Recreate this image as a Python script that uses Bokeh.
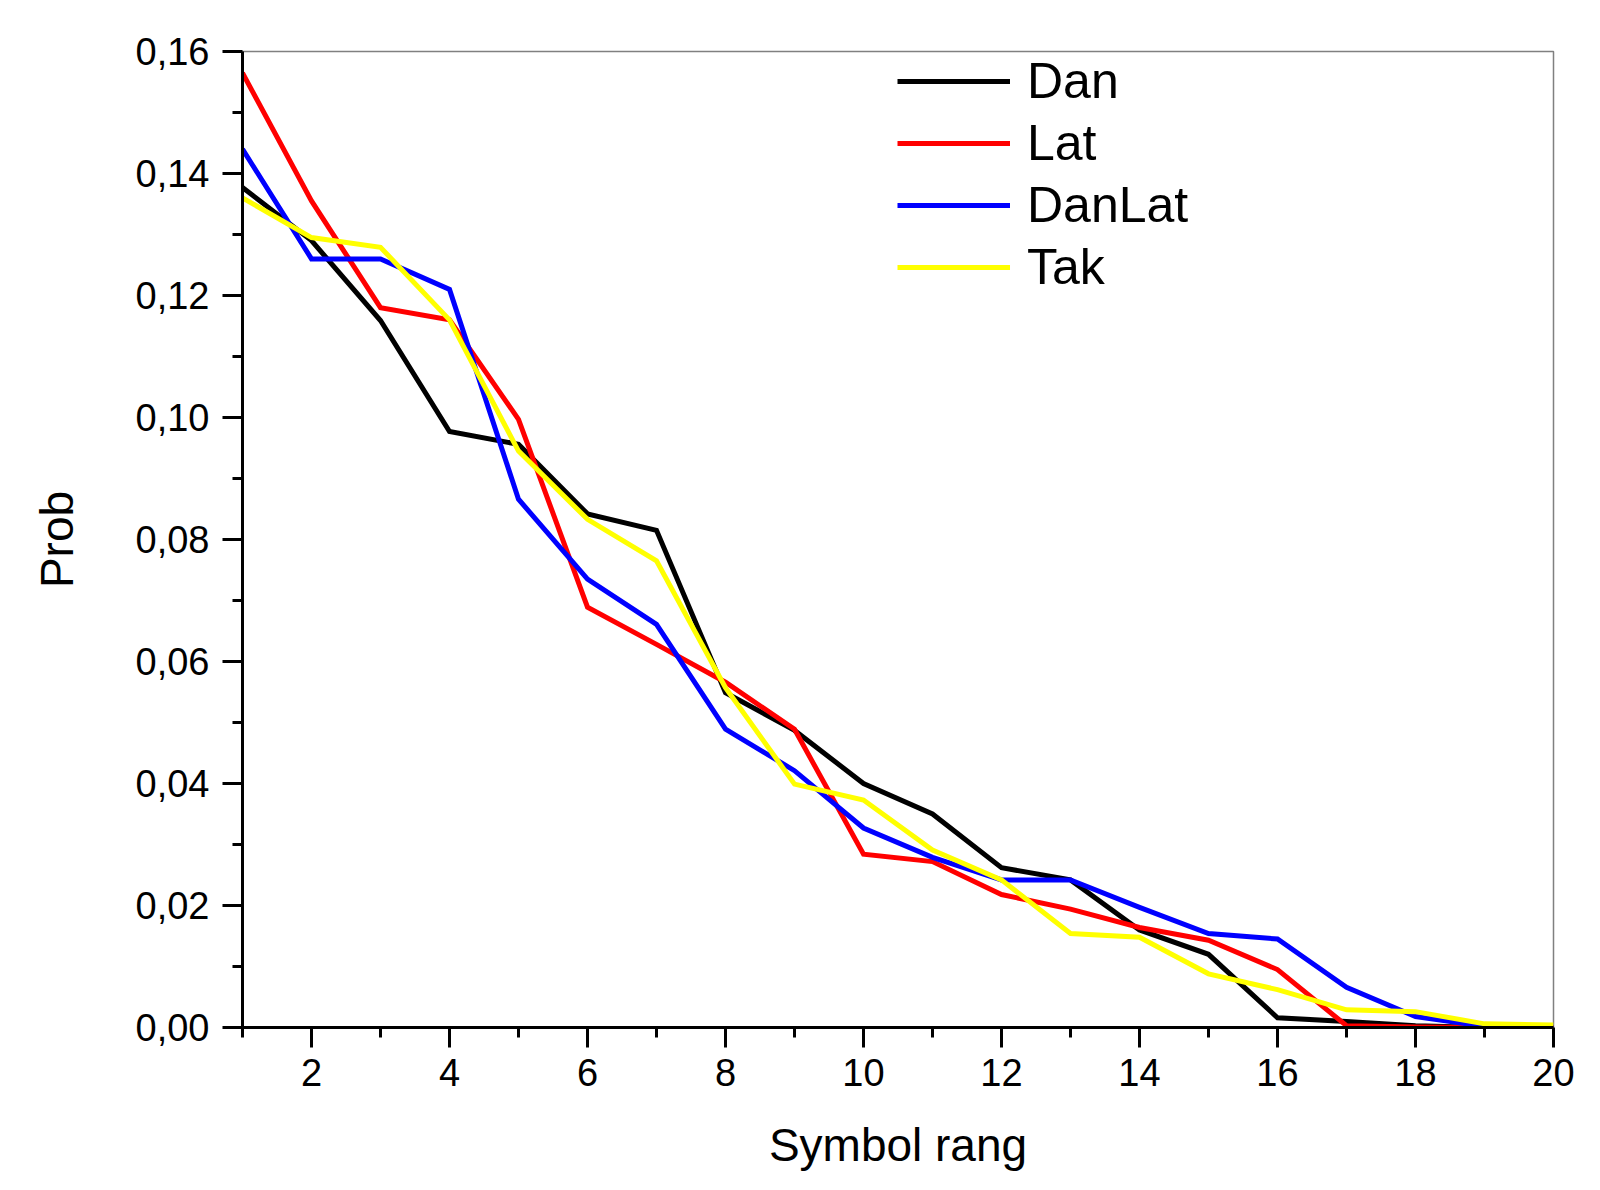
from bokeh.plotting import figure
from bokeh.models import Range1d, FixedTicker, Legend, LegendItem
from bokeh.embed import file_html
from bokeh.resources import INLINE

# ---- data ----
rang = list(range(1, 21))
dan = [0.1377, 0.1290, 0.1159, 0.0977, 0.0956, 0.0842, 0.0815, 0.0549, 0.0487, 0.0400,
       0.0350, 0.0262, 0.0242, 0.0160, 0.0120, 0.0016, 0.0010, 0.0003, 0.0000, 0.0000]
lat = [0.1565, 0.1355, 0.1180, 0.1160, 0.0997, 0.0689, 0.0628, 0.0566, 0.0489, 0.0284,
       0.0272, 0.0218, 0.0194, 0.0164, 0.0143, 0.0095, 0.0003, 0.0001, 0.0000, 0.0000]
danlat = [0.1440, 0.1260, 0.1260, 0.1210, 0.0866, 0.0735, 0.0661, 0.0489, 0.0421, 0.0327,
          0.0279, 0.0242, 0.0242, 0.0197, 0.0154, 0.0145, 0.0066, 0.0018, 0.0002, 0.0000]
tak = [0.1360, 0.1295, 0.1279, 0.1160, 0.0945, 0.0833, 0.0765, 0.0557, 0.0399, 0.0373,
       0.0291, 0.0242, 0.0154, 0.0148, 0.0088, 0.0062, 0.0029, 0.0026, 0.0006, 0.0004]

series_names = ["Dan", "Lat", "DanLat", "Tak"]
series_values = [dan, lat, danlat, tak]
series_colors = ["#000000", "#FF0000", "#0000FF", "#FFFF00"]

x_major_ticks = [2, 4, 6, 8, 10, 12, 14, 16, 18, 20]
x_minor_ticks = [1, 3, 5, 7, 9, 11, 13, 15, 17, 19]
y_major_ticks = [0.0, 0.02, 0.04, 0.06, 0.08, 0.10, 0.12, 0.14, 0.16]
y_minor_ticks = [0.01, 0.03, 0.05, 0.07, 0.09, 0.11, 0.13, 0.15]
y_tick_labels = ["0,00", "0,02", "0,04", "0,06", "0,08", "0,10", "0,12", "0,14", "0,16"]

FONT = "Liberation Sans"

p = figure(
    frame_width=1311, frame_height=976,
    min_border_left=242, min_border_top=51, min_border_right=37, min_border_bottom=150,
    x_range=Range1d(1, 20), y_range=Range1d(0, 0.16),
    output_backend="svg", toolbar_location=None,
    background_fill_color="white", border_fill_color="white",
)
p.grid.visible = False
p.outline_line_color = "#808080"
p.outline_line_width = 1.5

renderers = []
for name, vals, col in zip(series_names, series_values, series_colors):
    r = p.line(rang, vals, line_color=col, line_width=5, line_join="miter")
    renderers.append((name, r))

for ax in (p.xaxis[0], p.yaxis[0]):
    ax.axis_line_width = 3
    ax.axis_line_color = "black"
    ax.major_tick_line_width = 3
    ax.minor_tick_line_width = 3
    ax.major_tick_in = 0
    ax.minor_tick_in = 0
    ax.major_tick_out = 20
    ax.minor_tick_out = 10
    ax.major_label_text_font = FONT
    ax.major_label_text_font_size = "38px"
    ax.major_label_text_color = "black"
    ax.axis_label_text_font = FONT
    ax.axis_label_text_font_size = "46px"
    ax.axis_label_text_font_style = "normal"
    ax.axis_label_text_color = "black"

p.xaxis[0].ticker = FixedTicker(ticks=x_major_ticks, minor_ticks=x_minor_ticks)
p.yaxis[0].ticker = FixedTicker(ticks=y_major_ticks, minor_ticks=y_minor_ticks)
p.yaxis[0].major_label_overrides = dict(zip(y_major_ticks, y_tick_labels))
p.xaxis[0].axis_label = "Symbol rang"
p.yaxis[0].axis_label = "Prob"
p.xaxis[0].major_label_standoff = 11
p.yaxis[0].major_label_standoff = 13
p.xaxis[0].axis_label_standoff = 30
p.yaxis[0].axis_label_standoff = 50

legend = Legend(
    items=[LegendItem(label=n, renderers=[r]) for n, r in renderers],
    location=(655, 729),
    glyph_width=113, glyph_height=62, label_height=62, label_standoff=17,
    spacing=0, padding=0, margin=0,
    label_text_font=FONT, label_text_font_size="50px", label_text_color="black",
    border_line_color=None, background_fill_alpha=0,
)
p.add_layout(legend)

open("out.html", "w").write(file_html(p, INLINE))
